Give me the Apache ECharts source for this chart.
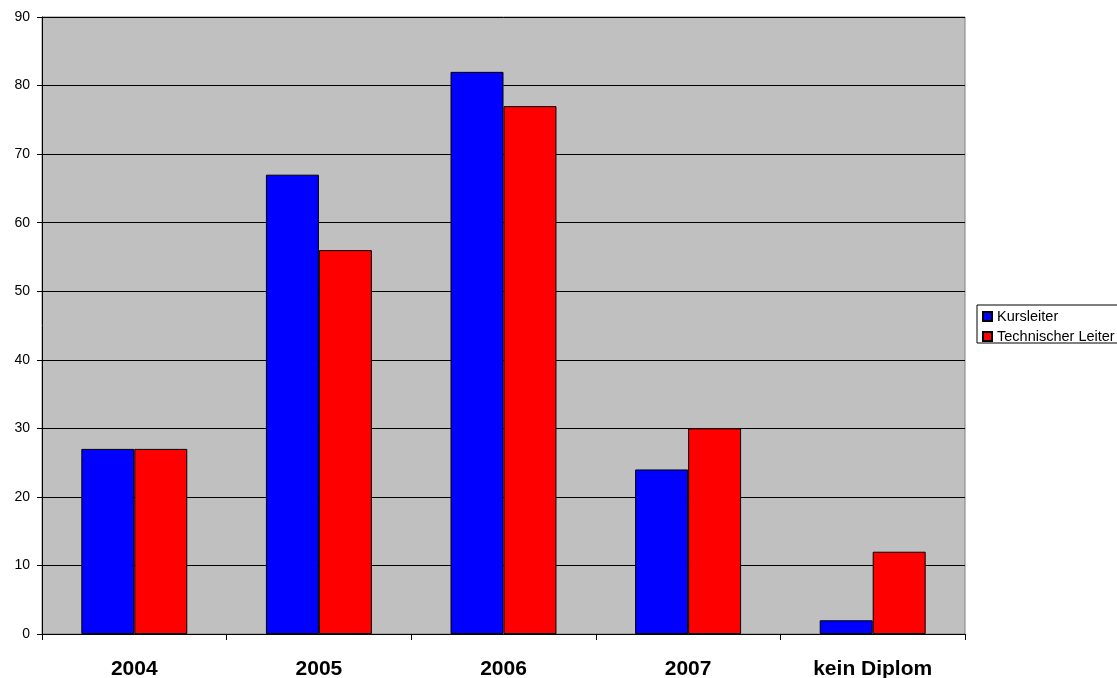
<!DOCTYPE html>
<html><head><meta charset="utf-8">
<script src="https://cdn.jsdelivr.net/npm/echarts@6/dist/echarts.min.js"></script>
<style>html,body{margin:0;padding:0;background:#fff}#c{width:1117px;height:678px}</style>
</head><body><div id="c"></div>
<script>
const categories = ['2004', '2005', '2006', '2007', 'kein Diplom'];
const kursleiter = [27, 67, 82, 24, 2];
const technischerLeiter = [27, 56, 77, 30, 12];
const seriesNames = ['Kursleiter', 'Technischer Leiter'];

const chart = echarts.init(document.getElementById('c'));
const font = 'Arial, "Liberation Sans", sans-serif';
chart.setOption({
  animation: false,
  textStyle: { fontFamily: font },
  grid: { left: 42, right: 152, top: 17, bottom: 44, outerBoundsMode: 'none', containLabel: false, show: true, backgroundColor: '#c0c0c0', borderColor: '#808080', borderWidth: 1 },
  graphic: [{ type: 'rect', shape: { x: 977, y: 305, width: 200, height: 38 }, style: { fill: '#fff', stroke: '#000', lineWidth: 1 }, z: 0 }],
  legend: {
    orient: 'vertical', left: 977, top: 305, padding: [4, 0, 0, 5], itemWidth: 9, itemHeight: 9, itemGap: 5,
    icon: 'rect',
    textStyle: { fontSize: 14.5, color: '#000', fontFamily: font },
    data: seriesNames, z: 10
  },
  xAxis: {
    type: 'category', data: categories,
    axisLine: { lineStyle: { color: '#000' } },
    axisTick: { show: true, length: 6, lineStyle: { color: '#000' } },
    axisLabel: { fontSize: 21, fontWeight: 'bold', color: '#000', margin: 25 }
  },
  yAxis: {
    type: 'value', min: 0, max: 90, interval: 10,
    axisLine: { show: true, lineStyle: { color: '#000' } },
    axisTick: { show: true, length: 5, lineStyle: { color: '#000' } },
    axisLabel: { fontSize: 14, color: '#000', margin: 12 },
    splitLine: { lineStyle: { color: '#000' } }
  },
  series: [
    { name: seriesNames[0], type: 'bar', data: kursleiter, barGap: '0%', barCategoryGap: '42.6%',
      itemStyle: { color: '#0000ff', borderColor: '#000', borderWidth: 1 } },
    { name: seriesNames[1], type: 'bar', data: technischerLeiter,
      itemStyle: { color: '#ff0000', borderColor: '#000', borderWidth: 1 } }
  ]
});
</script></body></html>
